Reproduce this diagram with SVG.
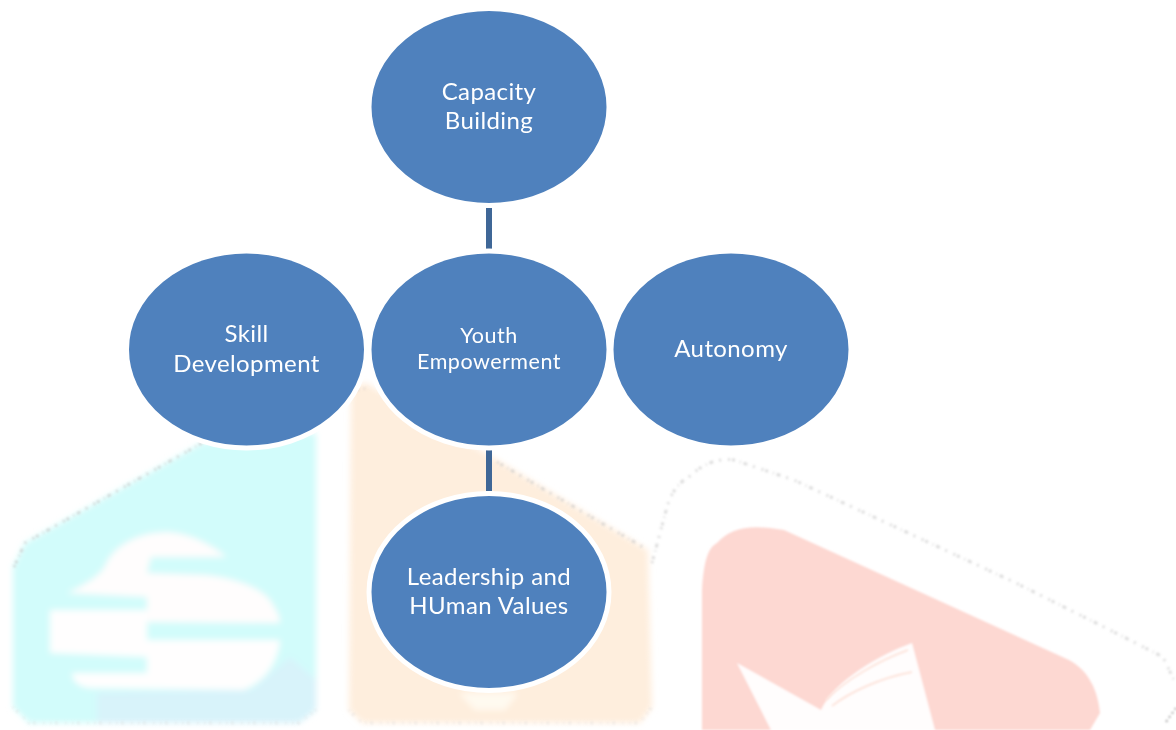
<svg xmlns="http://www.w3.org/2000/svg" width="1176" height="730" viewBox="0 0 1176 730">
<style>
.n{fill:#4f81bd;stroke:#fff;stroke-width:5}
.t{font-family:"Lato","Open Sans",sans-serif;fill:#fff;text-anchor:middle;font-size:24px;letter-spacing:.4px}
.s{font-size:21.500px;letter-spacing:.5px}
.c{stroke:#3f6797;stroke-width:6;fill:none}
.e{fill:none;stroke:#bdbdbd;stroke-width:3;stroke-dasharray:2 2 3 5 1 3 4 6 2 7;opacity:.5}
.f{fill:none;stroke:#cfcfcf;stroke-width:3;stroke-dasharray:1 4 2 8 1 6;opacity:.4}
</style>
<defs>
<filter id="b" x="-5%" y="-5%" width="110%" height="110%"><feGaussianBlur stdDeviation="3"/></filter>
<filter id="b2" x="-5%" y="-5%" width="110%" height="110%"><feGaussianBlur stdDeviation="1.200"/></filter>
<filter id="b3" x="-5%" y="-5%" width="110%" height="110%"><feGaussianBlur stdDeviation="1"/></filter>
</defs>
<rect width="1176" height="730" fill="#fff"/>
<g id="watermark">
<g filter="url(#b)">
<path d="M13 567 L25 543 L202 443 L316 433 L316 710 L299 723 L29 723 L13 707Z" fill="#d2fcfb"/>
<path d="M97 723 L97 693 L252 690 L290 657 L316 680 L316 710 L299 723Z" fill="#d8f3fa"/>
<path d="M67 593 C85 585 100 575 105 566 C112 548 135 532 168 532 C195 534 215 548 227 557 L151 557 L147 573 L205 575 C240 578 262 590 270 600 C276 610 280 615 280 623 L147 622 L147 597Z" fill="#fffdfd"/>
<path d="M50 610 L147 610 L147 657 L50 653Z" fill="#fffefe"/>
<path d="M147 640 L280 640 C278 660 268 680 244 690 L90 688 C80 687 72 682 72 673 L147 673Z" fill="#fffefe"/>
<path d="M351 387 L366 383 L497 460 L648 550 L652 707 L640 723 L362 723 L349 710Z" fill="#feeedd"/>
<path d="M459 693 L518 693 L505 710 L475 710Z" fill="#fffaf0"/>
</g>
<g filter="url(#b2)">
<path d="M702 730 L702 590 C704 560 708 548 717 543 C728 530 745 525 770 528 L784 530 L1069 660 C1088 670 1098 690 1100 713 L1090 730Z" fill="#fdd8d2"/>
<path d="M737 663 L821 710 C835 680 880 655 912 643 L935 730 L771 730Z" fill="#fffdfd"/>
</g>
<path d="M826 700 C845 680 880 660 908 650 M832 706 C850 692 880 678 912 672" fill="none" stroke="#fde5dd" stroke-width="2" filter="url(#b3)"/>
<g filter="url(#b3)">
<path class="e" d="M14 567 L25 543 L202 443"/>
<path class="e" d="M352 390 L368 388 M497 462 L648 550"/>
<path class="e" d="M652 563 L667 507 C672 490 680 482 690 476 C705 462 720 458 734 460 L794 480 L1016 583 L1110 630 L1163 657 L1174 680"/>
<path class="f" d="M13 707 L29 723 L299 723 L316 710 M349 710 L362 723 L640 723 L652 707"/>
<path d="M1176 708 L1166 722" stroke="#aaa" stroke-width="2" stroke-dasharray="2 3" fill="none"/>
</g>
</g>
<g id="connectors">
<line class="c" x1="489" y1="208" x2="489" y2="251"/>
<line class="c" x1="489" y1="448" x2="489" y2="491"/>
</g>
<g id="capacity-building">
<ellipse class="n" cx="489" cy="107" rx="120" ry="98.500"/>
<text class="t" x="489" y="100">Capacity</text>
<text class="t" x="489" y="129">Building</text>
</g>
<g id="skill-development">
<ellipse class="n" cx="246.500" cy="349.500" rx="120" ry="98.500"/>
<text class="t" x="246.500" y="342">Skill</text>
<text class="t" x="246.500" y="372">Development</text>
</g>
<g id="youth-empowerment">
<ellipse class="n" cx="489" cy="349.500" rx="120" ry="98.500"/>
<text class="t s" x="489" y="343">Youth</text>
<text class="t s" x="489" y="369">Empowerment</text>
</g>
<g id="autonomy">
<ellipse class="n" cx="731" cy="349.500" rx="120" ry="98.500"/>
<text class="t" x="731" y="357">Autonomy</text>
</g>
<g id="leadership">
<ellipse class="n" cx="489" cy="592" rx="120" ry="98.500"/>
<text class="t" x="489" y="585">Leadership and</text>
<text class="t" x="489" y="614">HUman Values</text>
</g>
</svg>
